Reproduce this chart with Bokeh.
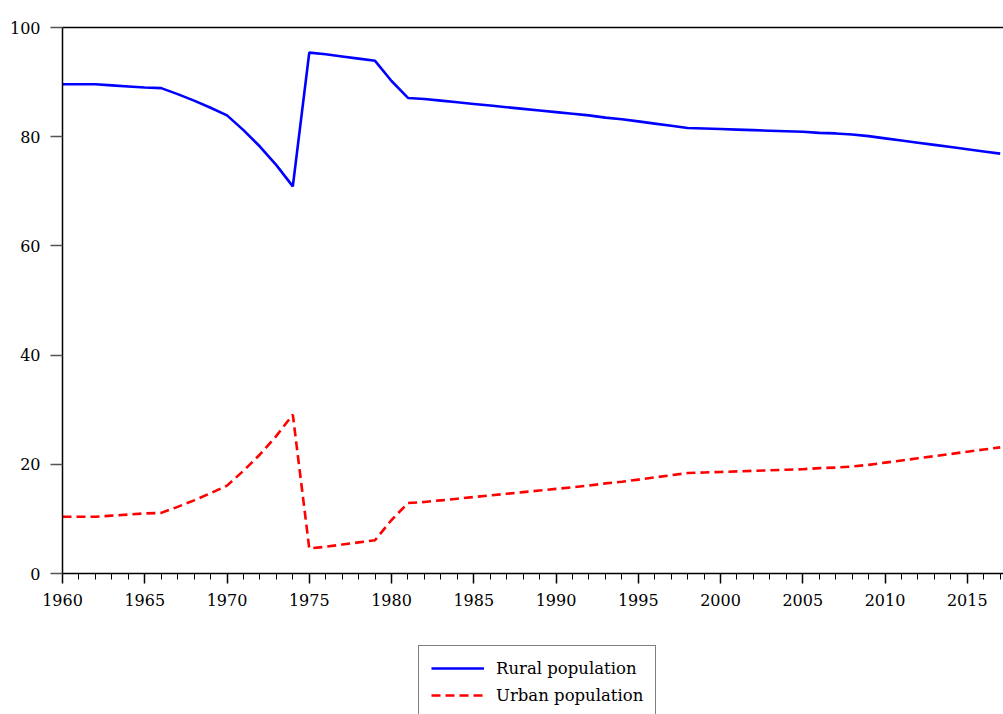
from bokeh.plotting import figure
from bokeh.models import (Range1d, LinearAxis, SingleIntervalTicker, Legend, LegendItem)
from bokeh.layouts import column
from bokeh.embed import file_html
from bokeh.resources import INLINE

years = list(range(1960, 2018))
rural = [89.6, 89.6, 89.6, 89.4, 89.2, 89.0, 88.9, 87.8, 86.6, 85.3,
         83.9, 81.2, 78.2, 74.8, 70.9, 95.4, 95.1, 94.7, 94.3, 93.9,
         90.2, 87.1, 86.9, 86.6, 86.3, 86.0, 85.7, 85.4, 85.1, 84.8,
         84.5, 84.2, 83.9, 83.5, 83.2, 82.8, 82.4, 82.0, 81.6, 81.5,
         81.4, 81.3, 81.2, 81.1, 81.0, 80.9, 80.7, 80.6, 80.4, 80.1,
         79.7, 79.3, 78.9, 78.5, 78.1, 77.7, 77.3, 76.9]
urban = [10.4, 10.4, 10.4, 10.6, 10.8, 11.0, 11.1, 12.2, 13.4, 14.7,
         16.1, 18.8, 21.8, 25.2, 29.1, 4.6, 4.9, 5.3, 5.7, 6.1,
         9.8, 12.9, 13.1, 13.4, 13.7, 14.0, 14.3, 14.6, 14.9, 15.2,
         15.5, 15.8, 16.1, 16.5, 16.8, 17.2, 17.6, 18.0, 18.4, 18.5,
         18.6, 18.7, 18.8, 18.9, 19.0, 19.1, 19.3, 19.4, 19.6, 19.9,
         20.3, 20.7, 21.1, 21.5, 21.9, 22.3, 22.7, 23.1]
series_names = ["Rural population", "Urban population"]

FONT = "DejaVu Serif"
FS = "16px"
RURAL_STYLE = dict(line_color="#0000FF", line_width=2.6)
URBAN_STYLE = dict(line_color="#FF0000", line_width=2.6, line_dash="9 5")

p = figure(width=1003, height=618, output_backend="svg", toolbar_location=None,
           x_range=Range1d(1960, 2017.2), y_range=Range1d(0, 100),
           min_border_left=62, min_border_right=0, min_border_top=27,
           min_border_bottom=45, x_axis_location=None, y_axis_location=None,
           frame_align=False)
p.outline_line_color = None
p.xgrid.visible = False
p.ygrid.visible = False

p.line(years, rural, **RURAL_STYLE)
p.line(years, urban, **URBAN_STYLE)

xaxis = LinearAxis(ticker=SingleIntervalTicker(interval=5, num_minor_ticks=5))
xaxis.axis_line_color = "black"
xaxis.axis_line_width = 1.5
xaxis.major_tick_in = 0
xaxis.major_tick_out = 10
xaxis.minor_tick_in = 0
xaxis.minor_tick_out = 6
xaxis.major_tick_line_color = "black"
xaxis.major_tick_line_width = 1.5
xaxis.minor_tick_line_color = "black"
xaxis.minor_tick_line_width = 1
xaxis.major_label_text_font = FONT
xaxis.major_label_text_font_size = FS
xaxis.major_label_text_color = "black"
xaxis.major_label_standoff = 10
p.add_layout(xaxis, "below")

yaxis = LinearAxis(ticker=SingleIntervalTicker(interval=20, num_minor_ticks=0))
yaxis.axis_line_color = "black"
yaxis.axis_line_width = 1.5
yaxis.major_tick_in = 0
yaxis.major_tick_out = 12
yaxis.major_tick_line_color = "#555555"
yaxis.major_tick_line_width = 1.5
yaxis.minor_tick_line_color = None
yaxis.major_label_text_font = FONT
yaxis.major_label_text_font_size = FS
yaxis.major_label_text_color = "black"
yaxis.major_label_standoff = 10
p.add_layout(yaxis, "left")

top = LinearAxis(ticker=SingleIntervalTicker(interval=5, num_minor_ticks=0))
top.axis_line_color = "black"
top.axis_line_width = 1.5
top.major_tick_line_color = None
top.minor_tick_line_color = None
top.major_label_text_font_size = "0px"
top.major_label_text_color = None
p.add_layout(top, "above")

# legend strip below the chart
q = figure(width=1003, height=96, output_backend="svg", toolbar_location=None,
           x_range=Range1d(0, 1), y_range=Range1d(0, 1),
           min_border_left=418, min_border_right=0, min_border_top=27,
           min_border_bottom=0, x_axis_location=None, y_axis_location=None,
           frame_align=False)
q.outline_line_color = None
q.xgrid.visible = False
q.ygrid.visible = False
l1 = q.line(years, rural, **RURAL_STYLE)
l2 = q.line(years, urban, **URBAN_STYLE)

legend = Legend(items=[LegendItem(label=series_names[0], renderers=[l1]),
                       LegendItem(label=series_names[1], renderers=[l2])],
                location="top_left")
legend.border_line_color = "black"
legend.border_line_width = 1.2
legend.background_fill_color = "white"
legend.background_fill_alpha = 1
legend.label_text_font = FONT
legend.label_text_font_size = "16.5px"
legend.label_text_color = "black"
legend.glyph_width = 53
legend.glyph_height = 20
legend.label_height = 20
legend.label_standoff = 12
legend.spacing = 7
legend.padding = 12
legend.margin = 0
q.add_layout(legend, "center")

open("out.html", "w").write(file_html(column(p, q, spacing=0), INLINE))
